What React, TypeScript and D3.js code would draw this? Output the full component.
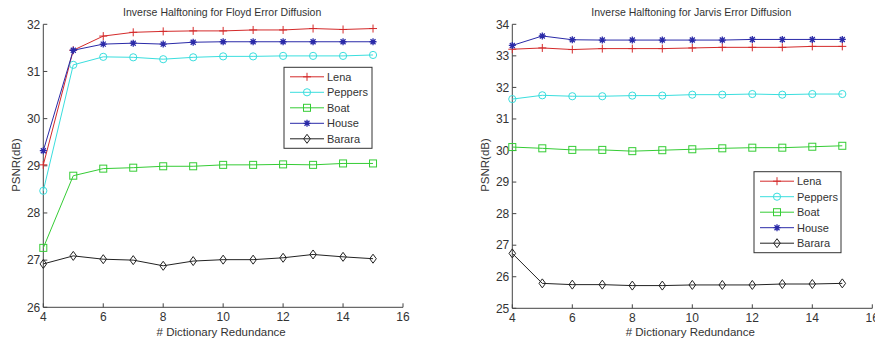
import React, {useEffect, useRef} from 'react';
import * as d3 from 'd3';

const redundancy = [4, 5, 6, 7, 8, 9, 10, 11, 12, 13, 14, 15];
const seriesNames = ['Lena', 'Peppers', 'Boat', 'House', 'Barara'];

const floydLena = [29.02, 31.45, 31.75, 31.83, 31.85, 31.86, 31.86, 31.88, 31.88, 31.91, 31.89, 31.91];
const floydPeppers = [28.47, 31.14, 31.31, 31.30, 31.26, 31.30, 31.32, 31.32, 31.33, 31.33, 31.33, 31.35];
const floydBoat = [27.26, 28.79, 28.94, 28.96, 28.99, 28.99, 29.02, 29.02, 29.03, 29.02, 29.05, 29.05];
const floydHouse = [29.32, 31.45, 31.58, 31.60, 31.58, 31.62, 31.63, 31.63, 31.63, 31.63, 31.63, 31.63];
const floydBarara = [26.92, 27.09, 27.02, 27.00, 26.88, 26.98, 27.01, 27.01, 27.05, 27.12, 27.07, 27.03];

const jarvisLena = [33.21, 33.25, 33.20, 33.23, 33.23, 33.23, 33.25, 33.27, 33.27, 33.27, 33.30, 33.30];
const jarvisPeppers = [31.63, 31.75, 31.72, 31.72, 31.74, 31.74, 31.77, 31.77, 31.79, 31.77, 31.79, 31.79];
const jarvisBoat = [30.11, 30.07, 30.02, 30.02, 29.98, 30.01, 30.04, 30.07, 30.09, 30.09, 30.12, 30.15];
const jarvisHouse = [33.33, 33.63, 33.51, 33.50, 33.50, 33.50, 33.50, 33.50, 33.52, 33.52, 33.52, 33.52];
const jarvisBarara = [26.74, 25.79, 25.75, 25.75, 25.72, 25.72, 25.74, 25.74, 25.74, 25.77, 25.77, 25.79];

const colors = ['#d42a2a', '#3adede', '#35cc35', '#2a2aa8', '#222222'];
const markers = ['plus', 'circle', 'square', 'star', 'diamond'];

const panels = [
    {
        title: 'Inverse Halftoning for Floyd Error Diffusion',
        series: [floydLena, floydPeppers, floydBoat, floydHouse, floydBarara],
        x0: 43.3, x1: 403, yTop: 24.3, yBot: 307.3, yDomain: [26, 32],
        legend: {x: 284, y: 67.3, w: 88, h: 81}
    },
    {
        title: 'Inverse Halftoning for Jarvis Error Diffusion',
        series: [jarvisLena, jarvisPeppers, jarvisBoat, jarvisHouse, jarvisBarara],
        x0: 512.3, x1: 872.3, yTop: 24.3, yBot: 308.3, yDomain: [25, 34],
        legend: {x: 754, y: 171.7, w: 87, h: 81}
    }
];

function drawMarker(g, type, x, y, color) {
    if (type === 'plus') {
        g.append('path').attr('d', `M${x - 4},${y}H${x + 4}M${x},${y - 4}V${y + 4}`)
            .attr('stroke', color).attr('fill', 'none');
    } else if (type === 'circle') {
        g.append('circle').attr('cx', x).attr('cy', y).attr('r', 3.6)
            .attr('stroke', color).attr('fill', 'none');
    } else if (type === 'square') {
        g.append('rect').attr('x', x - 3.5).attr('y', y - 3.5).attr('width', 7).attr('height', 7)
            .attr('stroke', color).attr('fill', 'none');
    } else if (type === 'star') {
        g.append('path')
            .attr('d', `M${x - 3.5},${y}H${x + 3.5}M${x},${y - 3.5}V${y + 3.5}M${x - 2.5},${y - 2.5}L${x + 2.5},${y + 2.5}M${x - 2.5},${y + 2.5}L${x + 2.5},${y - 2.5}`)
            .attr('stroke', color).attr('stroke-width', 1.3).attr('fill', 'none');
    } else {
        g.append('path').attr('d', `M${x},${y - 4.5}L${x + 3.3},${y}L${x},${y + 4.5}L${x - 3.3},${y}Z`)
            .attr('stroke', color).attr('fill', 'none');
    }
}

export default function App() {
    const svgRef = useRef(null);

    useEffect(() => {
        const svg = d3.select(svgRef.current);
        svg.selectAll('*').remove();
        const font = 'Arial, "Liberation Sans", sans-serif';
        const axisColor = '#444';

        panels.forEach(p => {
            const xScale = d3.scaleLinear().domain([4, 16]).range([p.x0, p.x1]);
            const yScale = d3.scaleLinear().domain(p.yDomain).range([p.yBot, p.yTop]);
            const g = svg.append('g');

            // axes (box off: only left and bottom)
            g.append('path').attr('d', `M${p.x0},${p.yTop}V${p.yBot}H${p.x1}`)
                .attr('stroke', axisColor).attr('fill', 'none');
            d3.range(4, 17, 2).forEach(t => {
                const x = xScale(t);
                g.append('line').attr('x1', x).attr('x2', x).attr('y1', p.yBot).attr('y2', p.yBot - 4)
                    .attr('stroke', axisColor);
                g.append('text').attr('x', x).attr('y', p.yBot + 14).attr('text-anchor', 'middle')
                    .attr('font-size', 12).attr('font-family', font).attr('fill', '#333').text(t);
            });
            d3.range(p.yDomain[0], p.yDomain[1] + 1).forEach(t => {
                const y = yScale(t);
                g.append('line').attr('x1', p.x0).attr('x2', p.x0 + 4).attr('y1', y).attr('y2', y)
                    .attr('stroke', axisColor);
                g.append('text').attr('x', p.x0 - 3).attr('y', y).attr('dy', '0.35em').attr('text-anchor', 'end')
                    .attr('font-size', 12).attr('font-family', font).attr('fill', '#333').text(t);
            });

            const cx = (p.x0 + p.x1) / 2;
            g.append('text').attr('x', cx - 1).attr('y', 16).attr('text-anchor', 'middle')
                .attr('font-size', 10.5).attr('font-family', font).attr('fill', '#333').text(p.title);
            g.append('text').attr('x', cx - 2).attr('y', 336).attr('text-anchor', 'middle')
                .attr('font-size', 11.5).attr('font-family', font).attr('fill', '#333').text('# Dictionary Redundance');
            g.append('text').attr('transform', `translate(${p.x0 - 23},165) rotate(-90)`).attr('text-anchor', 'middle')
                .attr('font-size', 11.5).attr('font-family', font).attr('fill', '#333').text('PSNR(dB)');

            // series
            const line = d3.line().x((d, i) => xScale(redundancy[i])).y(d => yScale(d));
            p.series.forEach((vals, si) => {
                g.append('path').datum(vals).attr('d', line).attr('fill', 'none')
                    .attr('stroke', colors[si]).attr('stroke-width', 1);
                vals.forEach((v, i) => drawMarker(g, markers[si], xScale(redundancy[i]), yScale(v), colors[si]));
            });

            // legend
            const L = p.legend;
            g.append('rect').attr('x', L.x).attr('y', L.y).attr('width', L.w).attr('height', L.h)
                .attr('fill', 'white').attr('stroke', '#333');
            seriesNames.forEach((name, si) => {
                const y = L.y + 9.5 + si * 15.5;
                g.append('line').attr('x1', L.x + 6).attr('x2', L.x + 40).attr('y1', y).attr('y2', y)
                    .attr('stroke', colors[si]);
                drawMarker(g, markers[si], L.x + 23, y, colors[si]);
                g.append('text').attr('x', L.x + 43).attr('y', y).attr('dy', '0.35em')
                    .attr('font-size', 11).attr('font-family', font).attr('fill', '#333').text(name);
            });
        });
    }, []);

    return (
        <svg ref={svgRef} width={875} height={341}
             style={{position: 'absolute', left: 0, top: 0, background: 'white'}}/>
    );
}
